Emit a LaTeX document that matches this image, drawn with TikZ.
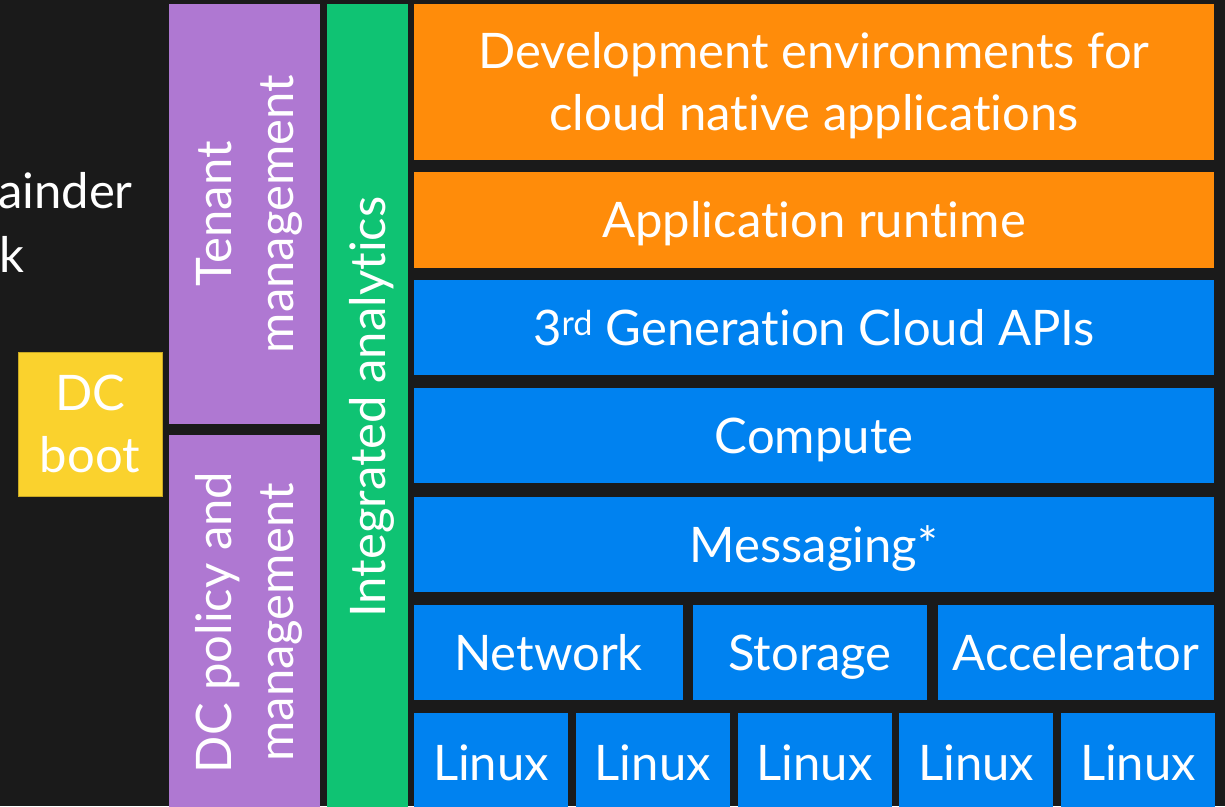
\documentclass[tikz,border=0pt]{standalone}
\usepackage{fontspec}
\setmainfont{Lato}[Ligatures=NoCommon]
\definecolor{bgdark}{HTML}{1A1A1A}
\definecolor{ebpurple}{HTML}{AF78D2}
\definecolor{ebgreen}{HTML}{0FC373}
\definecolor{eborange}{HTML}{FF8C0A}
\definecolor{ebblue}{HTML}{0082F0}
\definecolor{ebyellow}{HTML}{FAD22D}
\begin{document}
\begin{tikzpicture}[x=1pt,y=-1pt,
  blk/.style={inner sep=0pt, text=white, align=center, font=\fontsize{49}{62}\selectfont},
  oneline/.style={text height=35pt, text depth=0pt},
  twoline/.style={text height=97pt, text depth=0pt},
  layer/.style={blk, oneline, fill=ebblue, minimum width=800pt, minimum height=95pt},
  app/.style={blk, fill=eborange, minimum width=800pt},
  side/.style={blk, twoline, fill=ebpurple, rotate=90, minimum height=151pt}]
\path[use as bounding box, clip] (0,0) rectangle (1225,806);
\fill[bgdark] (0,0) rectangle (1225,806);
% left text, cut off by the frame
\node[blk, anchor=base east] (rem1) at (133,208) {ainder};
\node[blk, anchor=base east] (rem2) at (25,272) {k};
\node[blk, twoline, fill=ebyellow, draw=ebyellow!80!black, line width=0.6pt, minimum width=144pt, minimum height=144pt] (boot) at (90,424) {DC\\boot};
% management columns
\node[side, minimum width=420pt] (tenant) at (244.5,214) {Tenant\\management};
\node[side, minimum width=375pt] (dcpol) at (244.5,622.5) {DC policy and\\management};
\node[blk, oneline, fill=ebgreen, rotate=90, minimum width=806pt, minimum height=81pt] (ia) at (367.5,407) {Integrated analytics};
% stack
\node[app, twoline, minimum height=156pt] (devenv) at (814,82) {Development environments for\\cloud native applications};
\node[app, oneline, minimum height=96pt] (runtime) at (814,220) {Application runtime};
\node[layer] (apis) at (814,327.5) {3\textsuperscript{rd} Generation Cloud APIs};
\node[layer] (compute) at (814,435.5) {Compute};
\node[layer] (msg) at (814,544.5) {Messaging*};
\node[layer, minimum width=269pt] (net) at (548.5,652.5) {Network};
\node[layer, minimum width=234pt] (stor) at (810,652.5) {Storage};
\node[layer, minimum width=276pt] (accel) at (1076,652.5) {Accelerator};
\foreach \i in {0,...,4}
  \node[layer, minimum width=154pt, minimum height=100pt] (linux\i) at (491+161.75*\i,763) {Linux};
\end{tikzpicture}
\end{document}
